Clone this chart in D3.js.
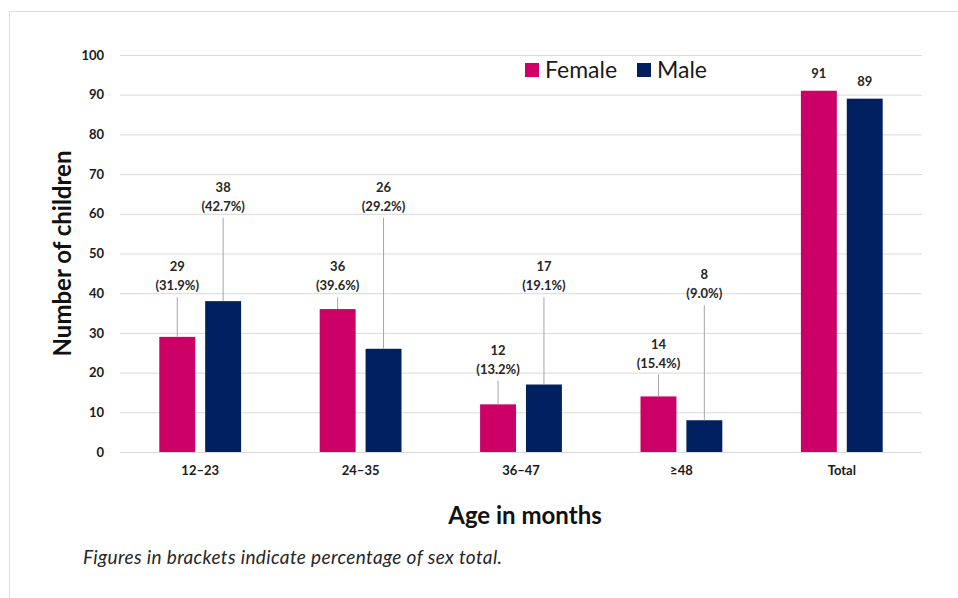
<!DOCTYPE html>
<html>
<head>
<meta charset="utf-8">
<script src="https://cdn.jsdelivr.net/npm/d3@7/dist/d3.min.js"></script>
<style>
  body { margin: 0; background: #fff; }
  svg { display: block; font-family: Lato, "Open Sans", sans-serif; }
</style>
</head>
<body>
<div id="chart"></div>
<script>
// chart data
const categories = ["12–23", "24–35", "36–47", "≥48", "Total"];
const series = ["Female", "Male"];
const femaleValues = [29, 36, 12, 14, 91];
const maleValues = [38, 26, 17, 8, 89];
const femalePct = ["31.9%", "39.6%", "13.2%", "15.4%", null];
const malePct = ["42.7%", "29.2%", "19.1%", "9.0%", null];
// where the callout label sits (in axis units)
const femaleLabelAt = [39, 39, 18, 19.5, null];
const maleLabelAt = [59, 59, 39, 37, null];
const yTicks = [0, 10, 20, 30, 40, 50, 60, 70, 80, 90, 100];

const colors = { Female: "#cc0066", Male: "#002060" };

const width = 958, height = 598;
const margin = { top: 55, right: 36, bottom: 146, left: 120 };
const innerW = width - margin.left - margin.right;
const innerH = height - margin.top - margin.bottom;

const svg = d3.select("#chart").append("svg")
  .attr("width", width)
  .attr("height", height);

// light frame round the picture
svg.append("path")
  .attr("d", `M9.5,${height} V11.5 H${width}`)
  .attr("fill", "none")
  .attr("stroke", "#dcdcdc");

const g = svg.append("g")
  .attr("transform", `translate(${margin.left},${margin.top})`);

const x0 = d3.scaleBand()
  .domain(categories)
  .range([0, innerW])
  .paddingInner(0.49)
  .paddingOuter(0.245);

const x1 = d3.scaleBand()
  .domain(series)
  .range([0, x0.bandwidth()])
  .paddingInner(0.217);

const y = d3.scaleLinear()
  .domain([0, 100])
  .range([innerH, 0]);

// gridlines
g.append("g")
  .selectAll("line")
  .data(yTicks)
  .join("line")
  .attr("x1", 0)
  .attr("x2", innerW)
  .attr("y1", d => y(d) + 0.5)
  .attr("y2", d => y(d) + 0.5)
  .attr("stroke", "#d9d9d9");

// y axis labels
const yAxis = g.append("g")
  .call(d3.axisLeft(y).tickValues(yTicks).tickSize(0).tickPadding(16));
yAxis.select(".domain").remove();
yAxis.selectAll("text")
  .attr("font-size", 13)
  .attr("font-weight", 700)
  .attr("fill", "#1a1a1a")
  .attr("font-family", "Lato, sans-serif");

// x axis labels
const xAxis = g.append("g")
  .attr("transform", `translate(0,${innerH})`)
  .call(d3.axisBottom(x0).tickSize(0).tickPadding(14));
xAxis.select(".domain").remove();
xAxis.selectAll("text")
  .attr("font-size", 13)
  .attr("font-weight", 700)
  .attr("fill", "#1a1a1a")
  .attr("font-family", "Lato, sans-serif");

const rows = categories.map((c, i) => ({
  cat: c,
  items: [
    { key: "Female", value: femaleValues[i], pct: femalePct[i], at: femaleLabelAt[i] },
    { key: "Male", value: maleValues[i], pct: malePct[i], at: maleLabelAt[i] }
  ]
}));

const groups = g.selectAll("g.cat")
  .data(rows)
  .join("g")
  .attr("class", "cat")
  .attr("transform", d => `translate(${x0(d.cat)},0)`);

groups.selectAll("rect")
  .data(d => d.items)
  .join("rect")
  .attr("x", d => x1(d.key))
  .attr("y", d => y(d.value))
  .attr("width", x1.bandwidth())
  .attr("height", d => innerH - y(d.value))
  .attr("fill", d => colors[d.key]);

// callout labels with leader lines
const items = groups.selectAll("g.lbl")
  .data(d => d.items)
  .join("g")
  .attr("class", "lbl")
  .attr("transform", d => `translate(${x1(d.key) + x1.bandwidth() / 2},0)`);

items.filter(d => d.pct)
  .append("line")
  .attr("x1", 0).attr("x2", 0)
  .attr("y1", d => y(d.at))
  .attr("y2", d => y(d.value))
  .attr("stroke", "#a6a6a6")
  .attr("stroke-width", 1);

items.filter(d => d.pct)
  .append("text")
  .attr("text-anchor", "middle")
  .attr("font-size", 13)
  .attr("font-weight", 700)
  .attr("fill", "#262626")
  .each(function(d) {
    const t = d3.select(this);
    t.append("tspan").attr("x", 0).attr("y", y(d.at) - 26).text(d.value);
    t.append("tspan").attr("x", 0).attr("y", y(d.at) - 7).text(`(${d.pct})`);
  });

items.filter(d => !d.pct)
  .append("text")
  .attr("text-anchor", "middle")
  .attr("x", 0)
  .attr("y", d => y(d.value) - 13)
  .attr("font-size", 13)
  .attr("font-weight", 700)
  .attr("fill", "#262626")
  .text(d => d.value);

// legend
const legend = svg.append("g")
  .attr("transform", "translate(525,63)");
const legItems = legend.selectAll("g")
  .data(series)
  .join("g")
  .attr("transform", (d, i) => `translate(${i * 112},0)`);
legItems.append("rect")
  .attr("width", 14).attr("height", 14)
  .attr("fill", d => colors[d]);
legItems.append("text")
  .attr("x", 20).attr("y", 15)
  .attr("font-size", 23)
  .attr("fill", "#1a1a1a")
  .text(d => d);

// axis titles
svg.append("text")
  .attr("transform", `translate(71,${margin.top + innerH / 2}) rotate(-90)`)
  .attr("text-anchor", "middle")
  .attr("font-size", 24)
  .attr("font-weight", 700)
  .attr("fill", "#111")
  .text("Number of children");

svg.append("text")
  .attr("x", margin.left + innerW / 2 + 4)
  .attr("y", 524)
  .attr("text-anchor", "middle")
  .attr("font-size", 24)
  .attr("font-weight", 700)
  .attr("fill", "#111")
  .text("Age in months");

svg.append("text")
  .attr("x", 83)
  .attr("y", 564)
  .attr("font-size", 19)
  .attr("font-style", "italic")
  .attr("fill", "#262626")
  .attr("textLength", 419)
  .attr("lengthAdjust", "spacing")
  .text("Figures in brackets indicate percentage of sex total.");
</script>
</body>
</html>
